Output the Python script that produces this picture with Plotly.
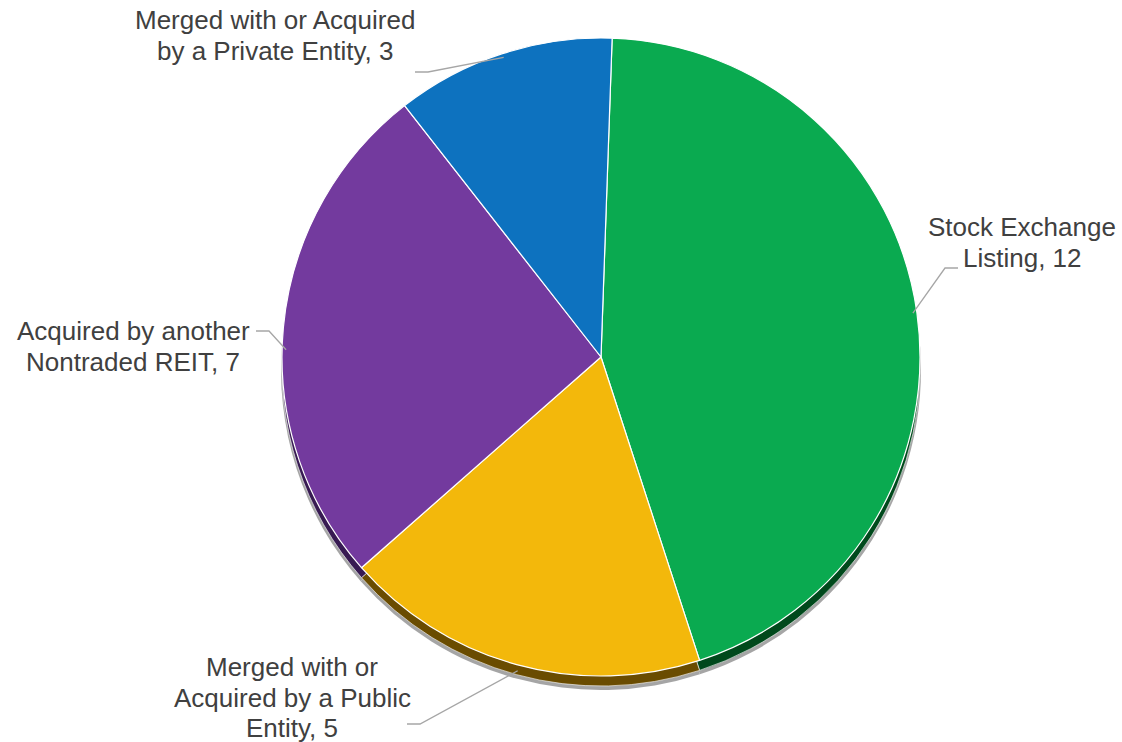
import math
import plotly.graph_objects as go

# Nontraded REIT liquidity events by type
categories = [
    "Stock Exchange Listing",
    "Merged with or Acquired by a Public Entity",
    "Acquired by another Nontraded REIT",
    "Merged with or Acquired by a Private Entity",
]
counts = [12, 5, 7, 3]
label_lines = [
    ["Stock Exchange", "Listing, 12"],
    ["Merged with or", "Acquired by a Public", "Entity, 5"],
    ["Acquired by another", "Nontraded REIT, 7"],
    ["Merged with or Acquired", "by a Private Entity, 3"],
]

face_colors = ["#0AAA50", "#F3B80B", "#733A9E", "#0D72BF"]
edge_colors = ["#00491C", "#6A4C00", "#371A52", "#07396A"]

W, H = 1122, 742
CX, CY, R = 601, 357, 319
START = 2.0   # degrees clockwise from 12 o'clock
DEPTH = 10    # px thickness of the rim under the pie
LINE_H = 30.5
FONT = dict(family="Liberation Sans, Arial", size=26, color="#404040")


def domain(cx, cy, r):
    return dict(
        x=[(cx - r) / W, (cx + r) / W],
        y=[1 - (cy + r) / H, 1 - (cy - r) / H],
    )


common = dict(
    labels=categories,
    values=counts,
    sort=False,
    direction="clockwise",
    rotation=START,
    textinfo="none",
    hoverinfo="label+value",
    showlegend=False,
)

fig = go.Figure()
# soft drop shadow
fig.add_trace(go.Pie(**common, domain=domain(CX, CY + DEPTH + 3, R + 1),
                     marker=dict(colors=["#000000"] * 4, line=dict(width=0)),
                     opacity=0.35))
# darker rim
fig.add_trace(go.Pie(**common, domain=domain(CX, CY + DEPTH, R),
                     marker=dict(colors=edge_colors, line=dict(color="#FFFFFF", width=0.6))))
# top face
fig.add_trace(go.Pie(**common, domain=domain(CX, CY, R),
                     marker=dict(colors=face_colors, line=dict(color="#FFFFFF", width=1.2))))

# label placement (centre x, first-line y, leader elbow, leader end) in pixels
label_pos = [(1022, 227), (292, 667), (133, 331), (275, 20)]
elbows = [((945, 268), (958, 268)),
          ((420, 724), (407, 724)),
          ((269, 331), (256, 331)),
          ((428, 72), (415, 72))]
anchor_shift = [0, 0, -4, 0]  # small angular nudges of leader start (deg)

total = sum(counts)
acc = 0.0
shapes = []
annotations = []
for i, v in enumerate(counts):
    mid = START + 360.0 * (acc + v / 2) / total + anchor_shift[i]
    acc += v
    a = math.radians(mid)
    rr = R - 4
    extra = DEPTH if math.cos(a) < -0.5 else 0
    ax = CX + rr * math.sin(a)
    ay = CY - rr * math.cos(a) + extra
    (ex, ey), (fx, fy) = elbows[i]
    shapes.append(dict(type="path", xref="x", yref="y",
                       path=f"M{ax:.1f},{ay:.1f} L{ex},{ey} L{fx},{fy}",
                       line=dict(color="#A6A6A6", width=1.3)))
    tx, ty = label_pos[i]
    for k, line in enumerate(label_lines[i]):
        annotations.append(dict(x=tx, y=ty + k * LINE_H, xref="x", yref="y",
                                text=line, showarrow=False, align="center",
                                xanchor="center", yanchor="middle", font=FONT))

fig.update_layout(
    width=W, height=H,
    margin=dict(l=0, r=0, t=0, b=0),
    paper_bgcolor="#FFFFFF",
    plot_bgcolor="rgba(0,0,0,0)",
    xaxis=dict(range=[0, W], visible=False, fixedrange=True),
    yaxis=dict(range=[H, 0], visible=False, fixedrange=True),
    shapes=shapes,
    annotations=annotations,
)

fig.write_html("out.html")
